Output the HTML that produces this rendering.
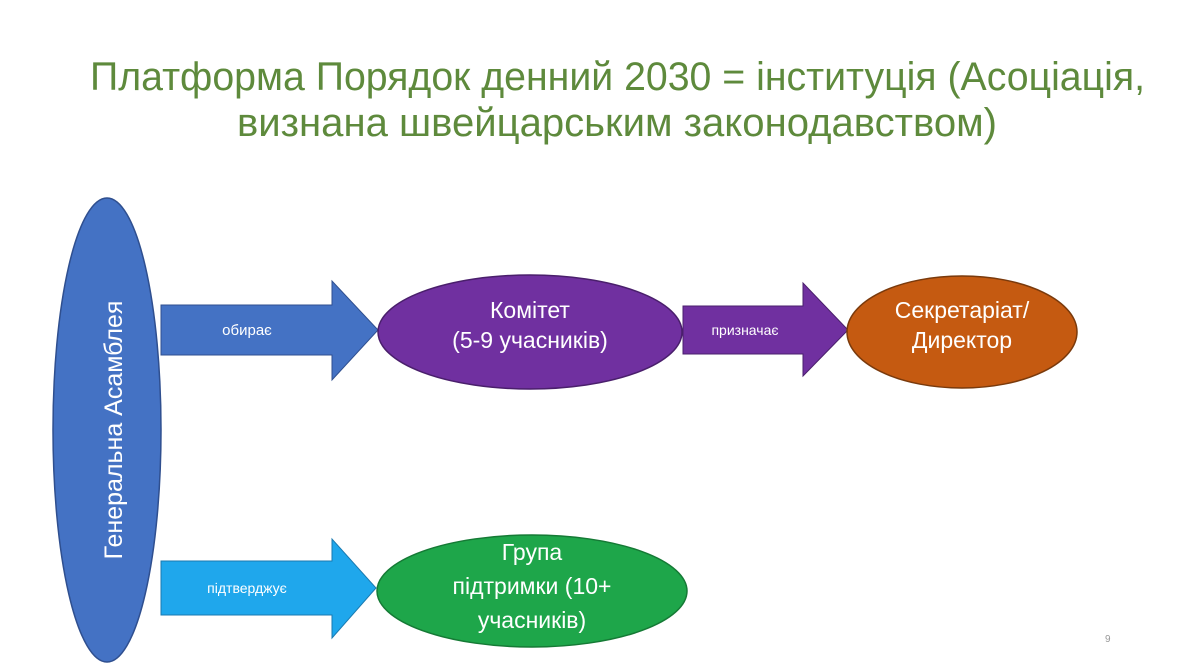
<!DOCTYPE html>
<html><head><meta charset="utf-8"><style>
html,body{margin:0;padding:0;background:#fff;width:1200px;height:667px;overflow:hidden}
svg{display:block}
text{font-family:"Liberation Sans","DejaVu Sans",sans-serif}
</style></head><body>
<svg width="1200" height="667" viewBox="0 0 1200 667" xmlns="http://www.w3.org/2000/svg">
<rect width="1200" height="667" fill="#fff"/>
<text x="90" y="90" font-size="40" fill="#5e8a3c" textLength="1055" lengthAdjust="spacingAndGlyphs">Платформа Порядок денний 2030 = інституція (Асоціація,</text>
<text x="237" y="136" font-size="40" fill="#5e8a3c" textLength="760" lengthAdjust="spacingAndGlyphs">визнана швейцарським законодавством)</text>

<!-- big ellipse -->
<ellipse cx="107" cy="430" rx="54" ry="232" fill="#4472c4" stroke="#2f4f8f" stroke-width="1.5"/>
<text transform="translate(122,430) rotate(-90)" text-anchor="middle" font-size="25" fill="#fff">Генеральна Асамблея</text>

<!-- arrow 1 -->
<polygon points="161,305 332,305 332,281 378,330 332,380 332,355 161,355" fill="#4472c4" stroke="#2f4f8f" stroke-width="1"/>
<text x="247" y="335" text-anchor="middle" font-size="15" fill="#fff">обирає</text>

<!-- committee -->
<ellipse cx="530" cy="332" rx="152" ry="57" fill="#7030a0" stroke="#4a1f6c" stroke-width="1.5"/>
<text x="530" y="318" text-anchor="middle" font-size="23" fill="#fff">Комітет</text>
<text x="530" y="348" text-anchor="middle" font-size="23" fill="#fff">(5-9 учасників)</text>

<!-- arrow 2 -->
<polygon points="683,306 803,306 803,283 848,330 803,376 803,354 683,354" fill="#7030a0" stroke="#4a1f6c" stroke-width="1"/>
<text x="745" y="335" text-anchor="middle" font-size="14" fill="#fff">призначає</text>

<!-- secretariat -->
<ellipse cx="962" cy="332" rx="115" ry="56" fill="#c55a11" stroke="#7a3a0c" stroke-width="1.5"/>
<text x="962" y="318" text-anchor="middle" font-size="23" fill="#fff">Секретаріат/</text>
<text x="962" y="348" text-anchor="middle" font-size="23" fill="#fff">Директор</text>

<!-- arrow 3 -->
<polygon points="161,561 332,561 332,539 376,588 332,638 332,615 161,615" fill="#1fa7ec" stroke="#1a7ab0" stroke-width="1"/>
<text x="247" y="593" text-anchor="middle" font-size="14" fill="#fff">підтверджує</text>

<!-- support group -->
<ellipse cx="532" cy="591" rx="155" ry="56" fill="#1ea64a" stroke="#157a35" stroke-width="1.5"/>
<text x="532" y="560" text-anchor="middle" font-size="23" fill="#fff">Група</text>
<text x="532" y="594" text-anchor="middle" font-size="23" fill="#fff">підтримки (10+</text>
<text x="532" y="628" text-anchor="middle" font-size="23" fill="#fff">учасників)</text>

<text x="1105" y="642" font-size="10" fill="#999">9</text>
</svg>
</body></html>
